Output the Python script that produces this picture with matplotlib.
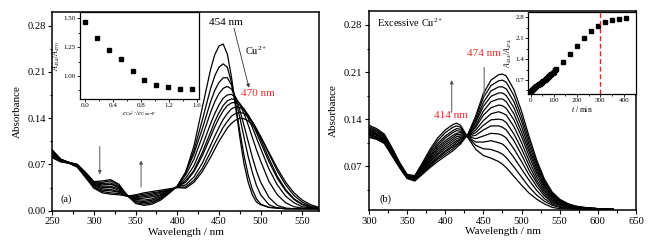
import numpy as np
import matplotlib
matplotlib.use("Agg")
import matplotlib.pyplot as plt
from matplotlib.ticker import MultipleLocator, FixedLocator, FormatStrFormatter

plt.rcParams['font.family'] = ['Liberation Serif', 'DejaVu Serif']
plt.rcParams['mathtext.fontset'] = 'custom'
plt.rcParams['mathtext.rm'] = 'Liberation Serif'
plt.rcParams['mathtext.it'] = 'Liberation Serif:italic'

# ---------------- data: panel (a) ----------------
wl_a = [250, 260, 270, 280, 290, 300, 310, 320, 330, 340, 350, 360, 370, 380, 390, 400,
        410, 420, 430, 440, 445, 450, 455, 460, 465, 470, 475, 480, 485, 490, 495, 500,
        510, 520, 530, 540, 550, 560, 570]
# each row: absorbance at one wavelength for the 10 titration spectra (Cu2+ increasing)
abs_a_rows = [
    [.092, .091, .089, .088, .087, .085, .084, .083, .081, .080],
    [.078, .078, .077, .077, .076, .076, .075, .075, .074, .074],
    [.073, .073, .073, .073, .073, .072, .072, .072, .072, .072],
    [.070, .070, .069, .069, .068, .068, .067, .067, .066, .066],
    [.058, .057, .056, .055, .055, .054, .053, .052, .051, .050],
    [.044, .043, .042, .041, .040, .039, .038, .036, .035, .034],
    [.045, .043, .041, .039, .037, .035, .033, .031, .029, .027],
    [.047, .045, .042, .040, .037, .035, .032, .030, .027, .025],
    [.040, .038, .036, .035, .033, .031, .029, .028, .026, .024],
    [.023, .023, .023, .023, .023, .022, .022, .022, .022, .022],
    [.011, .012, .014, .015, .017, .018, .020, .021, .023, .024],
    [.008, .010, .012, .014, .016, .019, .021, .023, .025, .027],
    [.010, .012, .014, .016, .018, .021, .023, .025, .027, .029],
    [.016, .018, .019, .021, .023, .024, .026, .028, .029, .031],
    [.026, .027, .028, .028, .029, .030, .031, .031, .032, .033],
    [.037, .037, .037, .037, .036, .036, .036, .036, .035, .035],
    [.058, .058, .058, .054, .049, .045, .043, .039, .036, .034],
    [.098, .091, .086, .078, .068, .061, .059, .051, .046, .043],
    [.156, .137, .124, .112, .098, .088, .083, .072, .064, .059],
    [.214, .185, .165, .149, .132, .119, .112, .099, .089, .081],
    [.236, .204, .182, .165, .147, .135, .127, .113, .102, .093],
    [.249, .217, .194, .177, .160, .148, .140, .126, .114, .105],
    [.252, .222, .201, .185, .170, .159, .151, .138, .126, .115],
    [.237, .217, .201, .188, .175, .166, .159, .147, .135, .125],
    [.202, .194, .190, .184, .176, .169, .163, .154, .143, .132],
    [.157, .159, .169, .171, .171, .168, .164, .157, .147, .137],
    [.111, .120, .141, .152, .161, .162, .160, .156, .149, .140],
    [.071, .084, .111, .129, .147, .153, .154, .152, .147, .139],
    [.043, .054, .082, .105, .130, .140, .144, .145, .142, .136],
    [.024, .032, .058, .081, .111, .126, .132, .134, .135, .130],
    [.013, .018, .038, .060, .092, .110, .118, .122, .124, .122],
    [.009, .010, .024, .043, .075, .094, .103, .108, .112, .112],
    [.005, .005, .009, .020, .044, .063, .074, .079, .086, .088],
    [.004, .004, .004, .008, .024, .039, .049, .052, .060, .064],
    [.003, .003, .003, .004, .012, .022, .030, .032, .039, .043],
    [.003, .003, .003, .003, .006, .012, .017, .018, .023, .027],
    [.003, .003, .003, .003, .004, .006, .009, .010, .013, .016],
    [.003, .003, .003, .003, .003, .004, .005, .006, .007, .009],
    [.003, .003, .003, .003, .003, .003, .003, .004, .004, .005],
]
ratio_x_a = [0.0, 0.17, 0.34, 0.51, 0.68, 0.85, 1.02, 1.19, 1.36, 1.53]
ratio_y_a = [1.47, 1.33, 1.225, 1.145, 1.04, 0.965, 0.92, 0.90, 0.89, 0.885]

# ---------------- data: panel (b) ----------------
wl_b = [300, 310, 320, 330, 340, 350, 360, 370, 380, 390, 400, 410, 415, 420, 430, 440,
        450, 460, 470, 475, 480, 490, 500, 510, 520, 530, 540, 550, 560, 570, 580, 590,
        600, 610, 620]
# each row: absorbance at one wavelength for the 13 time-resolved spectra
abs_b_rows = [
    [.113, .114, .116, .117, .118, .119, .121, .122, .124, .125, .127, .129, .131],
    [.110, .111, .112, .113, .114, .116, .117, .118, .119, .121, .122, .124, .126],
    [.104, .105, .106, .107, .108, .109, .110, .111, .112, .114, .115, .116, .118],
    [.086, .087, .088, .089, .089, .090, .091, .092, .093, .094, .095, .097, .098],
    [.068, .069, .069, .070, .070, .071, .071, .072, .073, .073, .074, .075, .076],
    [.052, .052, .053, .053, .054, .054, .055, .055, .056, .056, .057, .057, .058],
    [.048, .049, .049, .050, .050, .051, .051, .052, .053, .053, .054, .055, .056],
    [.058, .059, .060, .062, .063, .064, .065, .067, .068, .070, .071, .073, .075],
    [.068, .070, .072, .074, .076, .078, .080, .082, .084, .086, .089, .092, .095],
    [.077, .080, .082, .084, .087, .089, .092, .095, .098, .101, .104, .108, .112],
    [.085, .088, .091, .093, .096, .099, .102, .105, .108, .112, .115, .120, .124],
    [.093, .096, .099, .101, .104, .107, .110, .113, .116, .120, .123, .128, .132],
    [.098, .101, .103, .106, .108, .111, .114, .117, .119, .123, .126, .130, .134],
    [.103, .105, .107, .109, .111, .113, .115, .117, .120, .122, .125, .128, .131],
    [.118, .118, .117, .117, .116, .116, .115, .115, .114, .114, .113, .113, .112],
    [.145, .142, .138, .135, .131, .128, .124, .120, .116, .111, .106, .101, .095],
    [.178, .172, .165, .159, .152, .146, .138, .131, .124, .115, .106, .096, .086],
    [.198, .190, .182, .174, .166, .157, .148, .139, .130, .119, .108, .095, .082],
    [.206, .197, .188, .179, .170, .161, .151, .140, .130, .118, .105, .091, .077],
    [.207, .198, .188, .179, .170, .160, .149, .139, .128, .116, .103, .088, .073],
    [.204, .195, .185, .175, .166, .156, .146, .135, .124, .112, .098, .083, .068],
    [.184, .175, .166, .157, .148, .139, .129, .118, .108, .096, .083, .069, .055],
    [.152, .144, .137, .129, .121, .114, .105, .096, .087, .077, .066, .054, .042],
    [.114, .108, .102, .096, .091, .085, .078, .071, .064, .057, .049, .039, .030],
    [.079, .075, .071, .067, .063, .059, .054, .049, .045, .040, .034, .027, .021],
    [.051, .048, .046, .043, .041, .038, .035, .032, .029, .026, .022, .018, .014],
    [.032, .030, .029, .027, .026, .024, .022, .020, .018, .016, .014, .012, .009],
    [.021, .020, .019, .018, .017, .016, .015, .014, .013, .012, .010, .009, .007],
    [.015, .014, .014, .013, .013, .012, .012, .011, .010, .010, .009, .008, .007],
    [.011, .011, .010, .010, .010, .009, .009, .009, .008, .008, .007, .007, .006],
    [.009, .009, .009, .008, .008, .008, .008, .007, .007, .007, .007, .006, .006],
    [.008, .008, .008, .008, .007, .007, .007, .007, .007, .007, .006, .006, .006],
    [.007, .007, .007, .007, .007, .007, .006, .006, .006, .006, .006, .006, .006],
    [.006, .006, .006, .006, .006, .006, .006, .006, .006, .006, .006, .006, .006],
    [.006, .006, .006, .006, .006, .006, .006, .006, .006, .006, .006, .006, .006],
]
time_b = [0, 5, 10, 15, 20, 25, 30, 35, 40, 45, 50, 55, 60, 65, 70, 75, 80, 85, 90, 95,
          100, 105, 110, 140, 170, 200, 230, 260, 290, 320, 350, 380, 410]
ratio_b = [0.33, 0.37, 0.40, 0.43, 0.46, 0.49, 0.52, 0.55, 0.58, 0.61, 0.64, 0.67, 0.70,
           0.73, 0.76, 0.79, 0.83, 0.86, 0.90, 0.94, 0.98, 1.03, 1.08, 1.30, 1.56, 1.84,
           2.12, 2.33, 2.50, 2.66, 2.71, 2.75, 2.78]
t_end = 300

RED = '#e8312f'
FS = 7.6


def style_main(ax):
    for s in ax.spines.values():
        s.set_linewidth(1.1)
    ax.tick_params(which='both', direction='out', top=False, right=False,
                   labelsize=FS, width=0.8)
    ax.tick_params(which='major', length=3.2, pad=1.5)
    ax.tick_params(which='minor', length=1.8)


def style_inset(ax):
    for s in ax.spines.values():
        s.set_linewidth(0.9)
    ax.tick_params(which='both', direction='out', top=False, right=False,
                   labelsize=5, width=0.6, pad=1)
    ax.tick_params(which='major', length=2)
    ax.tick_params(which='minor', length=1.2)


fig = plt.figure(figsize=(6.61, 2.46), dpi=100)
fig.patch.set_facecolor('white')

# ---------------- panel (a) ----------------
axA = fig.add_axes([0.0791, 0.1435, 0.4035, 0.8065])
spec_a = np.array(abs_a_rows)
for k in range(spec_a.shape[1]):
    axA.plot(wl_a, spec_a[:, k], color='black', lw=0.9)
axA.set_xlim(250, 570)
axA.set_ylim(0, 0.30)
axA.xaxis.set_major_locator(FixedLocator([250, 300, 350, 400, 450, 500, 550]))
axA.xaxis.set_minor_locator(MultipleLocator(25))
axA.yaxis.set_major_locator(FixedLocator([0.0, 0.07, 0.14, 0.21, 0.28]))
axA.yaxis.set_minor_locator(MultipleLocator(0.035))
axA.yaxis.set_major_formatter(FormatStrFormatter('%.2f'))
style_main(axA)
axA.set_xlabel('Wavelength / nm', fontsize=8, labelpad=1)
axA.set_ylabel('Absorbance', fontsize=8, labelpad=4)

axA.text(458, 0.285, '454 nm', fontsize=8, ha='center', va='center')
axA.text(481, 0.2425, 'Cu$^{2+}$', fontsize=7.5, ha='left', va='center')
axA.text(476, 0.177, '470 nm', fontsize=8, ha='left', va='center', color=RED)
axA.text(260, 0.017, '(a)', fontsize=7.5, ha='left', va='center')
axA.annotate('', xy=(486, 0.186), xytext=(468, 0.276),
             arrowprops=dict(arrowstyle='-|>', lw=0.6, color='#333333',
                             mutation_scale=5, shrinkA=0, shrinkB=0))
axA.annotate('', xy=(307, 0.055), xytext=(307, 0.097),
             arrowprops=dict(arrowstyle='-|>', lw=0.7, color='#555555',
                             mutation_scale=5, shrinkA=0, shrinkB=0))
axA.annotate('', xy=(356.5, 0.076), xytext=(356.5, 0.036),
             arrowprops=dict(arrowstyle='-|>', lw=0.7, color='#555555',
                             mutation_scale=5, shrinkA=0, shrinkB=0))

# inset (a)
insA = fig.add_axes([0.121, 0.5976, 0.180, 0.352])
insA.plot(ratio_x_a, ratio_y_a, 's', color='black', ms=2.6)
insA.set_xlim(-0.076, 1.633)
insA.set_ylim(0.80, 1.552)
insA.xaxis.set_major_locator(FixedLocator([0.0, 0.4, 0.8, 1.2, 1.6]))
insA.xaxis.set_minor_locator(MultipleLocator(0.2))
insA.yaxis.set_major_locator(FixedLocator([1.00, 1.25, 1.50]))
insA.yaxis.set_minor_locator(MultipleLocator(0.125))
insA.xaxis.set_major_formatter(FormatStrFormatter('%.1f'))
insA.yaxis.set_major_formatter(FormatStrFormatter('%.2f'))
style_inset(insA)
insA.set_xlabel(r'$c_{\mathrm{Cu}^{2+}}/c_{\mathrm{Cou\!-\!P}}$', fontsize=5, labelpad=1)
insA.set_ylabel(r'$A_{454}/A_{470}$', fontsize=5.5, labelpad=1)

# ---------------- panel (b) ----------------
axB = fig.add_axes([0.5582, 0.1463, 0.4039, 0.8070])
spec_b = np.array(abs_b_rows)
for k in range(spec_b.shape[1]):
    axB.plot(wl_b, spec_b[:, k], color='black', lw=0.9)
axB.set_xlim(300, 650)
axB.set_ylim(0.005, 0.30)
axB.xaxis.set_major_locator(FixedLocator([300, 350, 400, 450, 500, 550, 600, 650]))
axB.xaxis.set_minor_locator(MultipleLocator(25))
axB.yaxis.set_major_locator(FixedLocator([0.07, 0.14, 0.21, 0.28]))
axB.yaxis.set_minor_locator(MultipleLocator(0.035))
axB.yaxis.set_major_formatter(FormatStrFormatter('%.2f'))
style_main(axB)
axB.set_xlabel('Wavelength / nm', fontsize=8, labelpad=1)
axB.set_ylabel('Absorbance', fontsize=8, labelpad=4)

axB.text(310, 0.283, 'Excessive Cu$^{2+}$', fontsize=7.5, ha='left', va='center')
axB.text(451, 0.238, '474 nm', fontsize=8, ha='center', va='center', color=RED)
axB.text(407.5, 0.145, '414 nm', fontsize=8, ha='center', va='center', color=RED)
axB.text(314, 0.021, '(b)', fontsize=7.5, ha='left', va='center')
axB.annotate('', xy=(451, 0.172), xytext=(451, 0.217),
             arrowprops=dict(arrowstyle='-|>', lw=0.7, color='#555555',
                             mutation_scale=5, shrinkA=0, shrinkB=0))
axB.annotate('', xy=(408.5, 0.198), xytext=(408.5, 0.150),
             arrowprops=dict(arrowstyle='-|>', lw=0.7, color='#555555',
                             mutation_scale=5, shrinkA=0, shrinkB=0))

# inset (b)
insB = fig.add_axes([0.7993, 0.6167, 0.1629, 0.3346])
insB.plot(time_b, ratio_b, 's', color='black', ms=2.4)
insB.axvline(t_end, color='#c8312c', lw=1.0, ls=(0, (3.5, 2)))
insB.set_xlim(-9.4, 452.8)
insB.set_ylim(0.22, 2.98)
insB.xaxis.set_major_locator(FixedLocator([0, 100, 200, 300, 400]))
insB.xaxis.set_minor_locator(MultipleLocator(50))
insB.yaxis.set_major_locator(FixedLocator([0.7, 1.4, 2.1, 2.8]))
insB.yaxis.set_minor_locator(MultipleLocator(0.35))
insB.yaxis.set_major_formatter(FormatStrFormatter('%.1f'))
style_inset(insB)
insB.set_xlabel(r'$t$ / min', fontsize=5.5, labelpad=0.5)
insB.set_ylabel(r'$A_{414}/A_{474}$', fontsize=5.5, labelpad=1)

fig.savefig('out.png', dpi=100, facecolor='white')
